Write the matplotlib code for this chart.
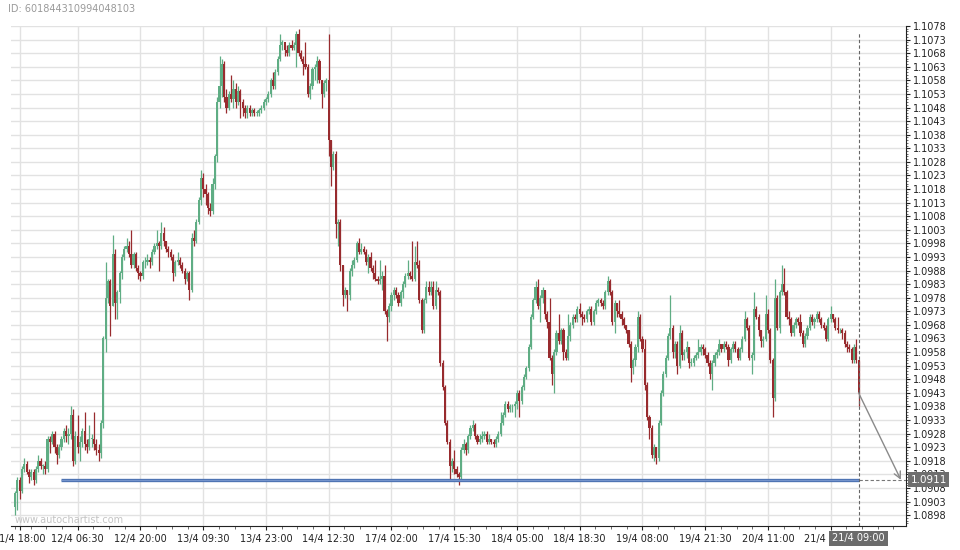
import numpy as np
import matplotlib
matplotlib.use('Agg')
import matplotlib.pyplot as plt
import matplotlib.transforms as mtransforms

# 30-minute candles, index based x axis (weekend removed)
first_open = 1.0901
closes = [
    1.0906, 1.0911, 1.0907, 1.0915, 1.0917, 1.0914, 1.0912, 1.0914, 1.0911, 1.0915,
    1.0918, 1.0916, 1.0916, 1.0915, 1.0926, 1.0925, 1.0928, 1.0923, 1.0920, 1.0923,
    1.0926, 1.0929, 1.0927, 1.0928, 1.0935, 1.0918, 1.0927, 1.0923, 1.0925, 1.0929,
    1.0924, 1.0923, 1.0926, 1.0926, 1.0924, 1.0922, 1.0921, 1.0932, 1.0963, 1.0978,
    1.0984, 1.0975, 1.0994, 1.0976, 1.0980, 1.0987, 1.0993, 1.0996, 1.0997, 1.0994,
    1.0990, 1.0994, 1.0989, 1.0987, 1.0986, 1.0991, 1.0991, 1.0992, 1.0991, 1.0995,
    1.0997, 1.0998, 1.0997, 1.1002, 1.0999, 1.0996, 1.0995, 1.0993, 1.0987, 1.0991,
    1.0992, 1.0990, 1.0988, 1.0985, 1.0987, 1.0981, 1.1000, 1.0999, 1.1006, 1.1014,
    1.1022, 1.1018, 1.1016, 1.1011, 1.1010, 1.1020, 1.1030, 1.1050, 1.1056, 1.1064,
    1.1052, 1.1048, 1.1053, 1.1051, 1.1055, 1.1050, 1.1054, 1.1050, 1.1048, 1.1046,
    1.1048, 1.1046, 1.1047, 1.1046, 1.1046, 1.1047, 1.1048, 1.1050, 1.1051, 1.1053,
    1.1058, 1.1056, 1.1061, 1.1066, 1.1071, 1.1072, 1.1069, 1.1068, 1.1071, 1.1070,
    1.1071, 1.1075, 1.1068, 1.1066, 1.1064, 1.1063, 1.1053, 1.1056, 1.1062, 1.1063,
    1.1065, 1.1058, 1.1053, 1.1057, 1.1058, 1.1036, 1.1026, 1.1031, 1.1005, 1.1006,
    1.0990, 1.0979, 1.0981, 1.0979, 1.0988, 1.0990, 1.0992, 1.0998, 1.0995, 1.0996,
    1.0995, 1.0991, 1.0993, 1.0989, 1.0987, 1.0985, 1.0984, 1.0985, 1.0986, 1.0973,
    1.0971, 1.0975, 1.0979, 1.0981, 1.0979, 1.0976, 1.0980, 1.0983, 1.0986, 1.0987,
    1.0986, 1.0985, 1.0991, 1.0990, 1.0977, 1.0966, 1.0977, 1.0982, 1.0980, 1.0982,
    1.0975, 1.0981, 1.0980, 1.0954, 1.0945, 1.0932, 1.0925, 1.0916, 1.0918, 1.0915,
    1.0913, 1.0912, 1.0922, 1.0924, 1.0922, 1.0927, 1.0930, 1.0931, 1.0927, 1.0925,
    1.0926, 1.0927, 1.0928, 1.0925, 1.0926, 1.0925, 1.0924, 1.0926, 1.0928, 1.0932,
    1.0935, 1.0939, 1.0937, 1.0938, 1.0938, 1.0939, 1.0943, 1.0940, 1.0945, 1.0949,
    1.0952, 1.0960, 1.0971, 1.0977, 1.0982, 1.0975, 1.0978, 1.0981, 1.0972, 1.0969,
    1.0956, 1.0950, 1.0958, 1.0965, 1.0962, 1.0966, 1.0958, 1.0956, 1.0964, 1.0968,
    1.0971, 1.0970, 1.0974, 1.0972, 1.0971, 1.0970, 1.0973, 1.0974, 1.0969, 1.0973,
    1.0976, 1.0977, 1.0976, 1.0975, 1.0980, 1.0984, 1.0980, 1.0969, 1.0976, 1.0973,
    1.0972, 1.0970, 1.0968, 1.0966, 1.0961, 1.0952, 1.0955, 1.0960, 1.0971, 1.0963,
    1.0959, 1.0946, 1.0934, 1.0930, 1.0920, 1.0923, 1.0919, 1.0932, 1.0943, 1.0950,
    1.0956, 1.0964, 1.0967, 1.0958, 1.0961, 1.0953, 1.0965, 1.0957, 1.0958, 1.0960,
    1.0954, 1.0954, 1.0956, 1.0957, 1.0958, 1.0960, 1.0959, 1.0957, 1.0954, 1.0950,
    1.0954, 1.0957, 1.0958, 1.0961, 1.0959, 1.0961, 1.0960, 1.0955, 1.0959, 1.0961,
    1.0959, 1.0956, 1.0959, 1.0963, 1.0970, 1.0967, 1.0956, 1.0957, 1.0974, 1.0971,
    1.0966, 1.0962, 1.0963, 1.0972, 1.0966, 1.0955, 1.0941, 1.0978, 1.0967, 1.0980,
    1.0983, 1.0980, 1.0971, 1.0970, 1.0965, 1.0968, 1.0970, 1.0969, 1.0965, 1.0961,
    1.0964, 1.0967, 1.0971, 1.0969, 1.0970, 1.0972, 1.0970, 1.0968, 1.0967, 1.0963,
    1.0970, 1.0972, 1.0970, 1.0967, 1.0966, 1.0966, 1.0965, 1.0961, 1.0960, 1.0959,
    1.0955, 1.0960, 1.0955, 1.0943,
]
highs = [
    1.0907, 1.0912, 1.0912, 1.0916, 1.0919, 1.0918, 1.0915, 1.0915, 1.0915, 1.0916,
    1.0920, 1.0919, 1.0917, 1.0918, 1.0927, 1.0927, 1.0929, 1.0929, 1.0924, 1.0924,
    1.0927, 1.0930, 1.0931, 1.0930, 1.0938, 1.0937, 1.0929, 1.0935, 1.0927, 1.0930,
    1.0936, 1.0926, 1.0931, 1.0928, 1.0936, 1.0926, 1.0924, 1.0933, 1.0964, 1.0991,
    1.0985, 1.0985, 1.1001, 1.0996, 1.0981, 1.0988, 1.0994, 1.0997, 1.1000, 1.0999,
    1.1003, 1.0995, 1.0995, 1.0990, 1.0988, 1.0992, 1.0993, 1.0994, 1.0993, 1.0996,
    1.0998, 1.1003, 1.0999, 1.1006, 1.1004, 1.0999, 1.0997, 1.0996, 1.0994, 1.0992,
    1.0995, 1.0993, 1.0991, 1.0989, 1.0988, 1.0988, 1.1002, 1.1003, 1.1007, 1.1015,
    1.1025, 1.1024, 1.1020, 1.1017, 1.1013, 1.1022, 1.1031, 1.1052, 1.1067, 1.1066,
    1.1065, 1.1055, 1.1054, 1.1060, 1.1058, 1.1057, 1.1056, 1.1055, 1.1051, 1.1049,
    1.1049, 1.1049, 1.1048, 1.1048, 1.1047, 1.1048, 1.1049, 1.1051, 1.1052, 1.1054,
    1.1059, 1.1061, 1.1062, 1.1067, 1.1075, 1.1073, 1.1071, 1.1071, 1.1072, 1.1073,
    1.1072, 1.1076, 1.1077, 1.1069, 1.1067, 1.1072, 1.1064, 1.1057, 1.1063, 1.1064,
    1.1067, 1.1066, 1.1058, 1.1058, 1.1059, 1.1075, 1.1036, 1.1032, 1.1032, 1.1007,
    1.1007, 1.0990, 1.0982, 1.0981, 1.0989, 1.0992, 1.0993, 1.0999, 1.1000, 1.0998,
    1.0997, 1.0996, 1.0994, 1.0995, 1.0990, 1.0992, 1.0986, 1.0992, 1.0988, 1.0990,
    1.0974, 1.0976, 1.0980, 1.0982, 1.0982, 1.0980, 1.0981, 1.0984, 1.0987, 1.0992,
    1.0988, 1.0999, 1.0997, 1.0999, 1.0992, 1.0978, 1.0978, 1.0984, 1.0984, 1.0984,
    1.0984, 1.0984, 1.0982, 1.0981, 1.0955, 1.0946, 1.0933, 1.0926, 1.0919, 1.0922,
    1.0916, 1.0914, 1.0923, 1.0926, 1.0925, 1.0928, 1.0931, 1.0933, 1.0932, 1.0928,
    1.0928, 1.0929, 1.0929, 1.0929, 1.0928, 1.0926, 1.0926, 1.0927, 1.0929, 1.0936,
    1.0936, 1.0940, 1.0940, 1.0939, 1.0939, 1.0940, 1.0944, 1.0944, 1.0946, 1.0950,
    1.0953, 1.0961, 1.0972, 1.0978, 1.0984, 1.0985, 1.0979, 1.0982, 1.0981, 1.0973,
    1.0978, 1.0957, 1.0959, 1.0966, 1.0972, 1.0967, 1.0967, 1.0959, 1.0972, 1.0969,
    1.0972, 1.0972, 1.0975, 1.0976, 1.0973, 1.0972, 1.0974, 1.0975, 1.0975, 1.0974,
    1.0977, 1.0978, 1.0978, 1.0977, 1.0981, 1.0986, 1.0985, 1.0981, 1.0977, 1.0976,
    1.0977, 1.0973, 1.0971, 1.0968, 1.0966, 1.0962, 1.0956, 1.0961, 1.0973, 1.0972,
    1.0964, 1.0963, 1.0947, 1.0935, 1.0931, 1.0924, 1.0923, 1.0933, 1.0944, 1.0951,
    1.0957, 1.0965, 1.0979, 1.0968, 1.0962, 1.0962, 1.0968, 1.0966, 1.0959, 1.0962,
    1.0960, 1.0956, 1.0957, 1.0958, 1.0963, 1.0961, 1.0961, 1.0960, 1.0958, 1.0955,
    1.0955, 1.0958, 1.0959, 1.0963, 1.0961, 1.0962, 1.0962, 1.0961, 1.0960, 1.0962,
    1.0962, 1.0960, 1.0960, 1.0964, 1.0973, 1.0971, 1.0968, 1.0958, 1.0980, 1.0975,
    1.0972, 1.0966, 1.0964, 1.0979, 1.0974, 1.0967, 1.0956, 1.0985, 1.0979, 1.0981,
    1.0990, 1.0989, 1.0981, 1.0973, 1.0971, 1.0969, 1.0971, 1.0971, 1.0972, 1.0966,
    1.0965, 1.0968, 1.0972, 1.0972, 1.0971, 1.0973, 1.0973, 1.0971, 1.0969, 1.0968,
    1.0971, 1.0975, 1.0972, 1.0971, 1.0971, 1.0967, 1.0967, 1.0966, 1.0962, 1.0961,
    1.0960, 1.0961, 1.0963, 1.0955,
]
lows = [
    1.0898, 1.0900, 1.0904, 1.0906, 1.0914, 1.0913, 1.0910, 1.0911, 1.0909, 1.0910,
    1.0914, 1.0915, 1.0913, 1.0913, 1.0914, 1.0921, 1.0924, 1.0921, 1.0917, 1.0919,
    1.0922, 1.0925, 1.0925, 1.0924, 1.0926, 1.0916, 1.0917, 1.0921, 1.0918, 1.0923,
    1.0922, 1.0921, 1.0922, 1.0923, 1.0922, 1.0920, 1.0918, 1.0919, 1.0930, 1.0958,
    1.0976, 1.0964, 1.0975, 1.0970, 1.0970, 1.0976, 1.0985, 1.0992, 1.0995, 1.0993,
    1.0989, 1.0989, 1.0988, 1.0985, 1.0984, 1.0985, 1.0989, 1.0990, 1.0989, 1.0990,
    1.0994, 1.0996, 1.0988, 1.0996, 1.0997, 1.0995, 1.0993, 1.0992, 1.0984, 1.0986,
    1.0990, 1.0989, 1.0987, 1.0983, 1.0984, 1.0977, 1.0980, 1.0997, 1.0998, 1.1005,
    1.1012, 1.1015, 1.1012, 1.1009, 1.1008, 1.1009, 1.1018, 1.1028, 1.1048, 1.1052,
    1.1050, 1.1046, 1.1047, 1.1050, 1.1048, 1.1048, 1.1049, 1.1044, 1.1045, 1.1044,
    1.1044, 1.1045, 1.1045, 1.1045, 1.1045, 1.1045, 1.1046, 1.1047, 1.1049, 1.1050,
    1.1052, 1.1055, 1.1055, 1.1060, 1.1065, 1.1069, 1.1067, 1.1067, 1.1067, 1.1069,
    1.1069, 1.1063, 1.1067, 1.1065, 1.1060, 1.1062, 1.1052, 1.1051, 1.1055, 1.1058,
    1.1057, 1.1057, 1.1048, 1.1052, 1.1054, 1.1030, 1.1019, 1.1025, 1.1000, 1.0997,
    1.0988, 1.0975, 1.0978, 1.0973, 1.0977, 1.0986, 1.0989, 1.0991, 1.0994, 1.0994,
    1.0994, 1.0990, 1.0987, 1.0988, 1.0985, 1.0984, 1.0983, 1.0983, 1.0981, 1.0972,
    1.0962, 1.0969, 1.0973, 1.0977, 1.0978, 1.0975, 1.0975, 1.0978, 1.0982, 1.0985,
    1.0985, 1.0984, 1.0984, 1.0989, 1.0976, 1.0965, 1.0965, 1.0976, 1.0979, 1.0979,
    1.0974, 1.0974, 1.0979, 1.0953, 1.0944, 1.0931, 1.0924, 1.0911, 1.0914, 1.0913,
    1.0912, 1.0909, 1.0911, 1.0921, 1.0920, 1.0921, 1.0926, 1.0929, 1.0926, 1.0924,
    1.0924, 1.0925, 1.0926, 1.0924, 1.0924, 1.0924, 1.0923, 1.0923, 1.0925, 1.0927,
    1.0931, 1.0934, 1.0936, 1.0936, 1.0936, 1.0934, 1.0937, 1.0934, 1.0939, 1.0944,
    1.0948, 1.0951, 1.0959, 1.0970, 1.0976, 1.0974, 1.0969, 1.0976, 1.0970, 1.0967,
    1.0955, 1.0946, 1.0943, 1.0957, 1.0961, 1.0961, 1.0955, 1.0955, 1.0955, 1.0962,
    1.0967, 1.0969, 1.0969, 1.0971, 1.0968, 1.0969, 1.0969, 1.0972, 1.0968, 1.0968,
    1.0972, 1.0975, 1.0975, 1.0974, 1.0974, 1.0979, 1.0979, 1.0968, 1.0965, 1.0971,
    1.0971, 1.0968, 1.0967, 1.0965, 1.0960, 1.0947, 1.0950, 1.0953, 1.0958, 1.0962,
    1.0958, 1.0944, 1.0933, 1.0926, 1.0919, 1.0918, 1.0917, 1.0918, 1.0931, 1.0942,
    1.0949, 1.0955, 1.0963, 1.0956, 1.0956, 1.0950, 1.0952, 1.0955, 1.0955, 1.0956,
    1.0952, 1.0953, 1.0953, 1.0955, 1.0956, 1.0957, 1.0957, 1.0956, 1.0953, 1.0948,
    1.0944, 1.0953, 1.0956, 1.0957, 1.0958, 1.0958, 1.0959, 1.0953, 1.0954, 1.0958,
    1.0958, 1.0955, 1.0955, 1.0958, 1.0962, 1.0966, 1.0955, 1.0950, 1.0955, 1.0970,
    1.0964, 1.0960, 1.0960, 1.0962, 1.0965, 1.0954, 1.0934, 1.0940, 1.0966, 1.0965,
    1.0979, 1.0979, 1.0970, 1.0968, 1.0964, 1.0964, 1.0967, 1.0968, 1.0964, 1.0960,
    1.0960, 1.0963, 1.0966, 1.0968, 1.0967, 1.0969, 1.0969, 1.0967, 1.0966, 1.0962,
    1.0962, 1.0969, 1.0969, 1.0966, 1.0965, 1.0965, 1.0963, 1.0960, 1.0958, 1.0958,
    1.0954, 1.0954, 1.0954, 1.0938,
]

tick_pos = [2, 27, 54, 81, 108, 135, 162, 189, 216, 243, 270, 297, 324, 351]
tick_labels = ['11/4 18:00', '12/4 06:30', '12/4 20:00', '13/4 09:30', '13/4 23:00',
               '14/4 12:30', '17/4 02:00', '17/4 15:30', '18/4 05:00', '18/4 18:30',
               '19/4 08:00', '19/4 21:30', '20/4 11:00', '21/4 00:30']
y_ticks = [1.0898 + 0.0005 * k for k in range(37)]

level = 1.0911
level_start = 20
level_text = '1.0911'
now_label = '21/4 09:00'
chart_id = 'ID: 601844310994048103'
watermark = 'www.autochartist.com'

GREEN = '#5fad84'
RED = '#982b2e'

c = np.array(closes)
h = np.array(highs)
l = np.array(lows)
o = np.concatenate([[first_open], c[:-1]])
x = np.arange(len(c))
last = x[-1]
colors = np.where(c >= o, GREEN, RED)

fig = plt.figure(figsize=(9.6, 5.5), dpi=100)
ax = fig.add_axes([11 / 960, 24 / 550, 895 / 960, 500 / 550])
ax.set_axisbelow(True)

# candles
ax.vlines(x, l, h, colors=colors, lw=0.9, zorder=2)
body = np.maximum(np.abs(c - o), 0.00003)
ax.bar(x, body, 0.92, np.minimum(o, c), color=colors, lw=0, zorder=2)

# level line + projection
ax.hlines(level, level_start, last, color='#4f74b3', lw=2.4, zorder=3)
ax.hlines(level, level_start, last, color='#7c9ad0', lw=0.6, zorder=3)
ax.hlines(level, last, 383.4, color='#777777', lw=0.8, linestyles=(0, (3, 2)), zorder=3)
ax.vlines(last, 1.0894, 1.10758, color='#666666', lw=0.8, linestyles=(0, (3, 2)), zorder=3)
ax.annotate('', xy=(381.2, level), xytext=(last, c[-1]),
            arrowprops=dict(arrowstyle='->', color='#8a8a8a', lw=1,
                            shrinkA=0, shrinkB=0, mutation_scale=12), zorder=4)

ax.set_xlim(-1.72, 383.4)
ax.set_ylim(1.0894, 1.1078)

# axes styling
for s in ['top', 'left']:
    ax.spines[s].set_visible(False)
ax.spines['right'].set_color('#222222')
ax.spines['bottom'].set_color('#222222')

ax.yaxis.tick_right()
ax.set_yticks(y_ticks)
ax.set_yticklabels(['%.4f' % v for v in y_ticks])
ax.set_yticks(np.arange(1.0895, 1.1078, 0.0001), minor=True)
ax.tick_params(axis='y', which='major', length=3, pad=2, labelsize=7, colors='#222222')
ax.tick_params(axis='y', which='minor', length=1.5, color='#555555')

ax.set_xticks(tick_pos)
ax.set_xticklabels(tick_labels)
ax.set_xticks(np.arange(27 - 6.75 * 4, 383, 6.75), minor=True)
ax.tick_params(axis='x', which='major', length=3, pad=3, labelsize=7, colors='#222222')
ax.tick_params(axis='x', which='minor', length=2, color='#555555')

ax.grid(True, which='major', color='#e2e2e2', lw=1)

trans_y = mtransforms.blended_transform_factory(ax.transAxes, ax.transData)
ax.text(1.005, level, level_text, transform=trans_y, ha='left', va='center',
        fontsize=7.5, color='white', zorder=6, clip_on=False,
        bbox=dict(boxstyle='square,pad=0.25', fc='#6e6e6e', ec='none'))

trans_x = mtransforms.blended_transform_factory(ax.transData, ax.transAxes)
ax.text(last, -0.025, now_label, transform=trans_x, ha='center', va='center',
        fontsize=7, color='white', zorder=6, clip_on=False,
        bbox=dict(boxstyle='square,pad=0.3', fc='#6b6b6b', ec='none'))

fig.text(8 / 960, 1 - 9 / 550, chart_id, ha='left', va='center', fontsize=7, color='#9a9a9a')
fig.text(15 / 960, 30 / 550, watermark, ha='left', va='center', fontsize=7, color='#c4c4c4')

fig.savefig('out.png', dpi=100)
